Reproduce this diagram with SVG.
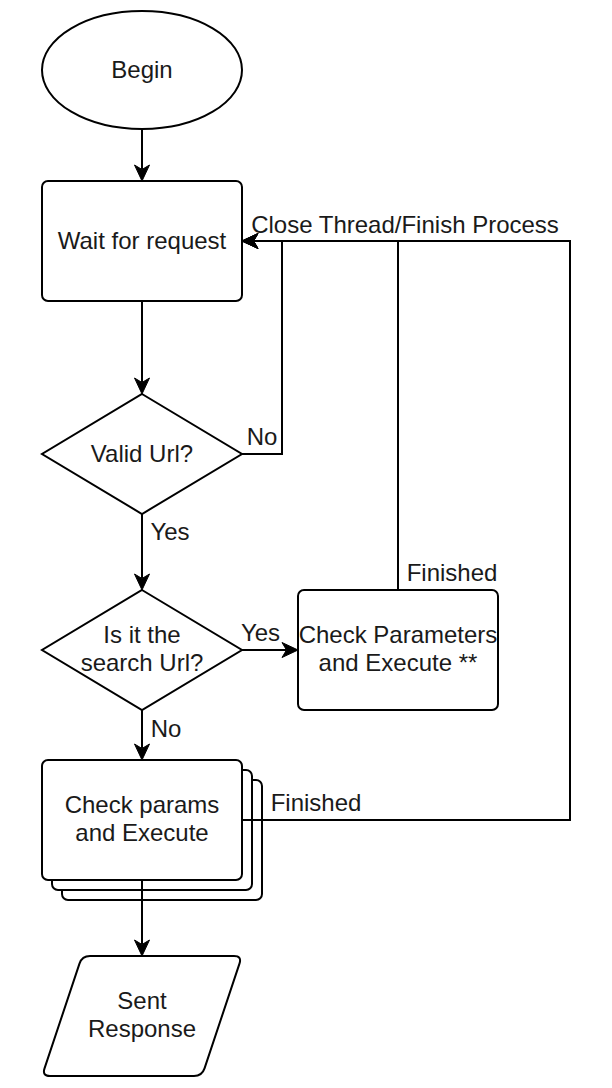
<svg xmlns="http://www.w3.org/2000/svg" width="612" height="1088" viewBox="0 0 612 1088">
<style>
.n{fill:#fff;stroke:#000;stroke-width:2}
.t{font-family:"Liberation Sans",Arial,sans-serif;font-size:24px;fill:#1a1a1a;text-anchor:middle}
.e{fill:none;stroke:#000;stroke-width:2}
</style>
<defs>
<marker id="arr" markerUnits="userSpaceOnUse" markerWidth="17" markerHeight="16" refX="4.5" refY="7.5" orient="auto" overflow="visible">
<path d="M0,0 L16,7.5 L0,15 L4.5,7.5 Z" fill="#000" stroke="#000" stroke-width="1" stroke-linejoin="miter"/>
</marker>
</defs>
<rect width="612" height="1088" fill="#fff"/>
<g id="begin">
<ellipse class="n" cx="142" cy="70" rx="100" ry="59"/>
<text class="t" x="142" y="77.5">Begin</text>
</g>
<g id="wait">
<rect class="n" x="42" y="181" width="200" height="120" rx="6"/>
<text class="t" x="142" y="248.5">Wait for request</text>
</g>
<g id="valid">
<polygon class="n" points="142,394 242,454 142,514 42,454"/>
<text class="t" x="142" y="461.5">Valid Url?</text>
</g>
<g id="search">
<polygon class="n" points="142,590 242,650 142,710 42,650"/>
<text class="t" x="142" y="642.5">Is it the</text>
<text class="t" x="142" y="670.5">search Url?</text>
</g>
<g id="checkParameters">
<rect class="n" x="298" y="590" width="200" height="120" rx="6"/>
<text class="t" x="398" y="642.5">Check Parameters</text>
<text class="t" x="398" y="670.5">and Execute **</text>
</g>
<g id="checkParams">
<rect class="n" x="62" y="780" width="200" height="120" rx="6"/>
<rect class="n" x="52" y="770" width="200" height="120" rx="6"/>
<rect class="n" x="42" y="760" width="200" height="120" rx="6"/>
<text class="t" x="142" y="812.5">Check params</text>
<text class="t" x="142" y="840.5">and Execute</text>
</g>
<g id="sent">
<path class="n" d="M90,956 L234,956 Q242,956 239.47,963.59 L204.53,1068.41 Q202,1076 194,1076 L50,1076 Q42,1076 44.53,1068.41 L79.47,963.59 Q82,956 90,956 Z"/>
<text class="t" x="142" y="1008.5">Sent</text>
<text class="t" x="142" y="1036.5">Response</text>
</g>
<g id="connectors">
<path class="e" d="M142,130 V169.5" marker-end="url(#arr)"/>
<path class="e" d="M142,301 V382.5" marker-end="url(#arr)"/>
<path class="e" d="M242,454 H282 V241 H253.5" marker-end="url(#arr)"/>
<path class="e" d="M142,514 V578.5" marker-end="url(#arr)"/>
<path class="e" d="M242,650 H286.5" marker-end="url(#arr)"/>
<path class="e" d="M142,710 V748.5" marker-end="url(#arr)"/>
<path class="e" d="M398,590 V241 H253.5" marker-end="url(#arr)"/>
<path class="e" d="M242,820 H570 V241 H253.5" marker-end="url(#arr)"/>
<path class="e" d="M142,880 V944.5" marker-end="url(#arr)"/>
<text class="t" x="405" y="232.5">Close Thread/Finish Process</text>
<text class="t" x="262" y="444.5">No</text>
<text class="t" x="170" y="539.5">Yes</text>
<text class="t" x="452" y="580.5">Finished</text>
<text class="t" x="260.5" y="640.5">Yes</text>
<text class="t" x="166" y="736.5">No</text>
<text class="t" x="316" y="810.5">Finished</text>
</g>
</svg>
